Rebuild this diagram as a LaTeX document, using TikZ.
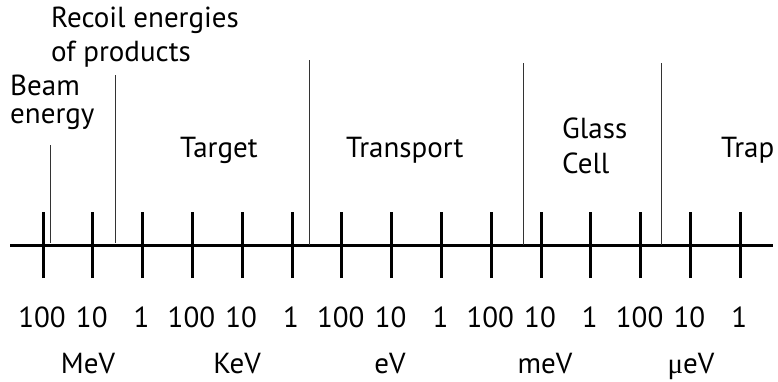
\documentclass[tikz,border=0pt]{standalone}
\usepackage{fontspec}
\setmainfont{PT Sans}
\newfontfamily\mufont{Liberation Serif}
\begin{document}
\begin{tikzpicture}[x=1pt,y=-1pt,
  lbl/.style={font=\fontsize{29}{32}\selectfont, inner sep=0pt, anchor=base west},
  num/.style={font=\fontsize{29}{32}\selectfont, inner sep=0pt, anchor=base},
  axisline/.style={line width=3pt},
  tickline/.style={line width=3pt},
  marker/.style={line width=1pt, black!80}]
\useasboundingbox (0,0) rectangle (778,381);
% axis
\coordinate (L) at (10,245);
\coordinate (R) at (773,245);
\draw[axisline] (L) -- (R);
% ticks and numbers
\foreach \i/\v in {0/100,1/10,2/1,3/100,4/10,5/1,6/100,7/10,8/1,9/100,10/10,11/1,12/100,13/10,14/1}{
  \coordinate (t\i) at ({43+\i*49.8},245);
  \draw[tickline] ([yshift=-33pt]t\i) -- ([yshift=33pt]t\i);
  \node[num] (n\i) at ({42+\i*49.8},327) {\v};
}
% units
\node[num] (MeV) at (88,373) {MeV};
\node[num] (KeV) at (237,373) {KeV};
\node[num] (eV) at (390,373) {eV};
\node[num] (meV) at (545,373) {meV};
\node[num] (ueV) at (691,373) {{\mufont μ}eV};
% marker lines
\coordinate (b1) at (50,145);  \coordinate (b2) at (50,243);
\coordinate (r1) at (115,75);  \coordinate (r2) at (115,243);
\coordinate (p1) at (309,60);  \coordinate (p2) at (309,245);
\coordinate (g1) at (523,63);  \coordinate (g2) at (523,245);
\coordinate (h1) at (661,63);  \coordinate (h2) at (661,245);
\draw[marker] (b1) -- (b2);
\draw[marker] (r1) -- (r2);
\draw[marker] (p1) -- (p2);
\draw[marker] (g1) -- (g2);
\draw[marker] (h1) -- (h2);
% labels
\node[lbl] (rec1) at (51,27) {Recoil energies};
\node[lbl] (rec2) at (51,61) {of products};
\node[lbl] (beam1) at (10,95) {Beam};
\node[lbl] (beam2) at (10,123) {energy};
\node[lbl] (target) at (180,157) {Target};
\node[lbl] (transport) at (346,157) {Transport};
\node[lbl] (glass1) at (562,138) {Glass};
\node[lbl] (glass2) at (562,173) {Cell};
\node[lbl] (trap) at (721,157) {Trap};
\end{tikzpicture}
\end{document}
